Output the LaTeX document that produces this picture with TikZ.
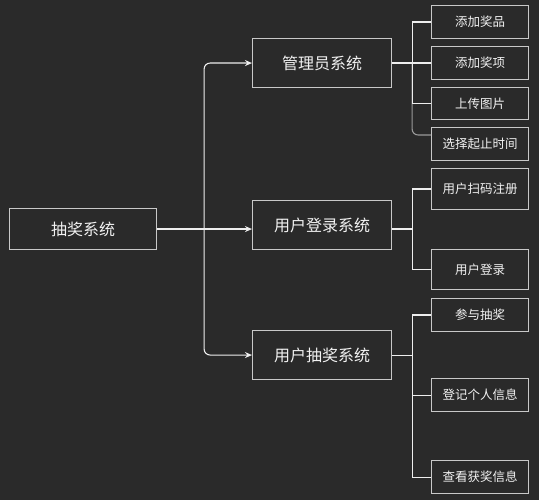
\documentclass[tikz,border=0pt]{standalone}
\usepackage{fontspec}
\setmainfont{Noto Sans CJK SC}
\usetikzlibrary{arrows.meta,calc}
\definecolor{bgc}{HTML}{2A2A2A}
\definecolor{boxline}{HTML}{C8C8C8}
\definecolor{conn}{HTML}{EEEEEE}
\definecolor{connb}{HTML}{9A9A9A}
\definecolor{txt}{HTML}{F2F2F2}
\tikzset{
  boxbase/.style={draw=boxline, fill=bgc, line width=1.1pt, text=txt, inner sep=0pt, anchor=north west},
  bigbox/.style={boxbase, font=\fontsize{16pt}{18pt}\selectfont},
  smallbox/.style={boxbase, font=\fontsize{12.5pt}{14pt}\selectfont},
  link/.style={draw=conn, line width=1.1pt},
  arr/.style={link, -{Stealth[length=7pt,width=6pt]}},
}
\begin{document}
\begin{tikzpicture}[x=1pt,y=-1pt]
\fill[bgc] (0,0) rectangle (539,500);
\useasboundingbox (0,0) rectangle (539,500);
% main
\node[bigbox, minimum width=147pt, minimum height=41pt] (main) at (9,208) {抽奖系统};
% middle
\node[bigbox, minimum width=139pt, minimum height=49pt] (admin) at (252,38) {管理员系统};
\node[bigbox, minimum width=139pt, minimum height=49pt] (ulog) at (252,200) {用户登录系统};
\node[bigbox, minimum width=139pt, minimum height=49pt] (udraw) at (252,330) {用户抽奖系统};
% right
\node[smallbox, minimum width=97pt, minimum height=33pt] (a1) at (431,5) {添加奖品};
\node[smallbox, minimum width=97pt, minimum height=33pt] (a2) at (431,46) {添加奖项};
\node[smallbox, minimum width=97pt, minimum height=32pt] (a3) at (431,87) {上传图片};
\node[smallbox, minimum width=97pt, minimum height=33pt] (a4) at (431,127) {选择起止时间};
\node[smallbox, minimum width=97pt, minimum height=41pt] (b1) at (431,168) {用户扫码注册};
\node[smallbox, minimum width=97pt, minimum height=40pt] (b2) at (431,249) {用户登录};
\node[smallbox, minimum width=97pt, minimum height=33pt] (c1) at (431,298) {参与抽奖};
\node[smallbox, minimum width=97pt, minimum height=33pt] (c2) at (431,378) {登记个人信息};
\node[smallbox, minimum width=97pt, minimum height=33pt] (c3) at (431,460) {查看获奖信息};
% coordinates
\coordinate (j) at ($(main.east)+(47,0)$);
\coordinate (tA) at ($(admin.east)+(20,0)$);
\coordinate (tB) at ($(ulog.east)+(20,4)$);
\coordinate (bB) at ($(ulog.east)+(0,4)$);
\coordinate (tC) at ($(udraw.east)+(20,0)$);
\coordinate (a4in) at ($(a4.north west)+(0,8)$);
% left connectors
\draw[arr] (main.east) -- (main.east -| ulog.west);
\draw[arr, rounded corners=6pt] (j) |- (admin.west);
\draw[arr, rounded corners=6pt] (j) |- (udraw.west);
% admin branches
\draw[link, draw=connb, rounded corners=6pt] (tA) |- (a4in);
\draw[link] (admin.east) -- (tA) |- (a1.west);
\draw[link] (tA) |- (a2.west);
\draw[link] (tA) |- (a3.west);
% ulog branches
\draw[link] (bB) -- (tB) |- (b1.west);
\draw[link] (tB) |- (b2.west);
% udraw branches
\draw[link] (udraw.east) -- (tC) |- (c1.west);
\draw[link] (tC) |- (c2.west);
\draw[link] (tC) |- (c3.west);
\end{tikzpicture}
\end{document}
